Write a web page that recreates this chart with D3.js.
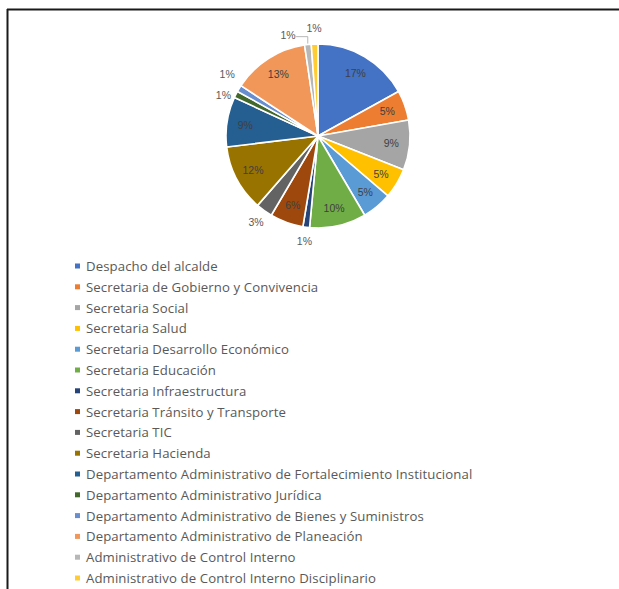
<!DOCTYPE html>
<html>
<head>
<meta charset="utf-8">
<script src="https://cdn.jsdelivr.net/npm/d3@7"></script>
<style>
  html, body { margin: 0; padding: 0; background: #fff; }
  svg { display: block; }
</style>
</head>
<body>
<svg id="chart" width="619" height="589"></svg>
<script>
// Dependencias de la administración municipal
const categories = [
  "Despacho del alcalde",
  "Secretaria de Gobierno y Convivencia",
  "Secretaria Social",
  "Secretaria Salud",
  "Secretaria Desarrollo Económico",
  "Secretaria Educación",
  "Secretaria Infraestructura",
  "Secretaria Tránsito y Transporte",
  "Secretaria TIC",
  "Secretaria Hacienda",
  "Departamento Administrativo de Fortalecimiento Institucional",
  "Departamento Administrativo Jurídica",
  "Departamento Administrativo de Bienes y Suministros",
  "Departamento Administrativo de Planeación",
  "Administrativo de Control Interno",
  "Administrativo de Control Interno Disciplinario"
];

// Cantidad por dependencia
const values = [29, 9, 15, 9, 9, 17, 2, 10, 5, 20, 15, 2, 2, 23, 2, 2];

const colors = [
  "#4472C4", "#ED7D31", "#A5A5A5", "#FFC000", "#5B9BD5", "#70AD47",
  "#264478", "#9E480E", "#636363", "#997300", "#255E91", "#43682B",
  "#698ED0", "#F1975A", "#B7B7B7", "#FFCD33"
];

const svg = d3.select("#chart");
const W = 619, H = 589;

// Marco
svg.append("line").attr("x1", 7).attr("x2", W).attr("y1", 9.5).attr("y2", 9.5)
  .attr("stroke", "#1a1a1a").attr("stroke-width", 2);
svg.append("line").attr("x1", 7.5).attr("x2", 7.5).attr("y1", 9).attr("y2", H)
  .attr("stroke", "#1a1a1a").attr("stroke-width", 2);

const cx = 318, cy = 136, R = 92;
const total = d3.sum(values);
const pct = d3.format(".0%");

const data = categories.map((c, i) => ({ name: c, value: values[i], color: colors[i] }));

const pie = d3.pie().sort(null).value(d => d.value).startAngle(0).endAngle(2 * Math.PI);
const arcs = pie(data);

const arc = d3.arc().innerRadius(0).outerRadius(R);
const labelArc = d3.arc().innerRadius(R * 0.8).outerRadius(R * 0.8);
const outerArc = d3.arc().innerRadius(R + 14).outerRadius(R + 14);

const g = svg.append("g").attr("transform", `translate(${cx},${cy})`);

g.selectAll("path.slice")
  .data(arcs)
  .join("path")
  .attr("class", "slice")
  .attr("d", arc)
  .attr("fill", d => d.data.color)
  .attr("stroke", "#fff")
  .attr("stroke-width", 1.6)
  .attr("stroke-linejoin", "round");

// Etiquetas de porcentaje
const labels = arcs.map(d => {
  const share = d.data.value / total;
  const outside = share < 0.04;
  const p = outside ? outerArc.centroid(d) : labelArc.centroid(d);
  return { d, share, outside, x: p[0], y: p[1], ax: p[0], ay: p[1] };
});

// Separar etiquetas externas que se superponen
const outs = labels.filter(l => l.outside);
for (let it = 0; it < 60; it++) {
  for (let i = 0; i < outs.length; i++) {
    for (let j = i + 1; j < outs.length; j++) {
      const a = outs[i], b = outs[j];
      const dx = b.x - a.x, dy = b.y - a.y;
      if (Math.abs(a.y) > R * 0.9 && Math.abs(b.y) > R * 0.9 && a.y < 0 && b.y < 0) {
        // cerca de la parte superior: desplazar la primera hacia la izquierda
        if (Math.abs(dx) < 26) {
          a.x -= (26 - Math.abs(dx));
          a.y += 4; b.y -= 2;
        }
      } else if (Math.abs(dx) < 22 && Math.abs(dy) < 20) {
        const push = (20 - Math.abs(dy)) / 2 + 0.5;
        const s = dy >= 0 ? 1 : -1;
        a.y -= s * push; b.y += s * push;
      }
    }
  }
}

// Líneas guía para etiquetas desplazadas
outs.forEach(l => {
  const moved = Math.hypot(l.x - l.ax, l.y - l.ay);
  if (moved > 8 && l.y < -R * 0.9) {
    const edge = d3.arc().innerRadius(R + 1).outerRadius(R + 1).centroid(l.d);
    const tx = l.x + 8;
    g.append("polyline")
      .attr("points", `${tx},${l.y + 2} ${edge[0]},${l.y + 2} ${edge[0]},${edge[1]}`)
      .attr("fill", "none")
      .attr("stroke", "#a6a6a6")
      .attr("stroke-width", 0.8);
  }
});

g.selectAll("text.lbl")
  .data(labels)
  .join("text")
  .attr("class", "lbl")
  .attr("x", l => l.x)
  .attr("y", l => l.y)
  .attr("text-anchor", "middle")
  .attr("dominant-baseline", "central")
  .attr("font-family", "'Liberation Sans', Arial, sans-serif")
  .attr("font-size", 10.5)
  .attr("fill", l => l.outside ? "#595959" : "#404040")
  .text(l => pct(l.share));

// Leyenda
const legend = svg.append("g").attr("transform", "translate(75,266)");
const rowH = 20.8;
const rows = legend.selectAll("g.row")
  .data(data)
  .join("g")
  .attr("class", "row")
  .attr("transform", (d, i) => `translate(0,${i * rowH})`);

rows.append("rect")
  .attr("x", 0).attr("y", -2.5)
  .attr("width", 5).attr("height", 5)
  .attr("fill", d => d.color);

rows.append("text")
  .attr("x", 11)
  .attr("y", 0)
  .attr("dominant-baseline", "central")
  .attr("font-family", "'Open Sans', sans-serif")
  .attr("font-size", 13.2)
  .attr("letter-spacing", 0.1)
  .attr("fill", "#595959")
  .text(d => d.name);
</script>
</body>
</html>
